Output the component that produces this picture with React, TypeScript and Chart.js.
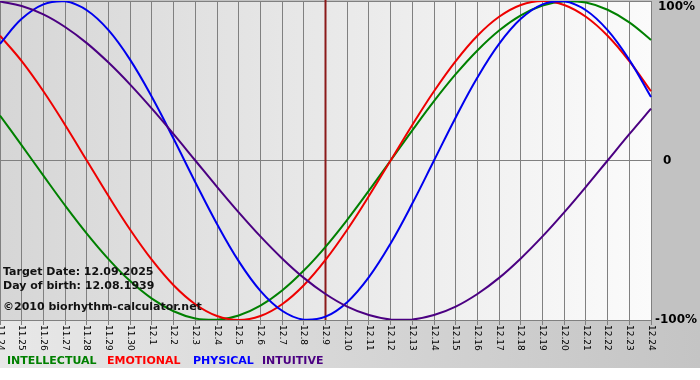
import React, { useEffect, useRef } from "react";
import { Chart, registerables } from "chart.js";

Chart.register(...registerables);

const dateLabels = [
  "11.24", "11.25", "11.26", "11.27", "11.28", "11.29", "11.30",
  "12.1", "12.2", "12.3", "12.4", "12.5", "12.6", "12.7", "12.8", "12.9", "12.10",
  "12.11", "12.12", "12.13", "12.14", "12.15", "12.16", "12.17", "12.18", "12.19",
  "12.20", "12.21", "12.22", "12.23", "12.24",
];

const intellectual = [0.282, 0.095, -0.095, -0.282, -0.458, -0.618, -0.756, -0.866, -0.945, -0.990, -0.999, -0.972, -0.910, -0.815, -0.690, -0.541, -0.372, -0.189, 0.000, 0.189, 0.372, 0.541, 0.690, 0.815, 0.910, 0.972, 0.999, 0.990, 0.945, 0.866, 0.756];
const emotional = [0.782, 0.623, 0.434, 0.223, 0.000, -0.223, -0.434, -0.623, -0.782, -0.901, -0.975, -1.000, -0.975, -0.901, -0.782, -0.623, -0.434, -0.223, 0.000, 0.223, 0.434, 0.623, 0.782, 0.901, 0.975, 1.000, 0.975, 0.901, 0.782, 0.623, 0.434];
const physical = [0.731, 0.888, 0.979, 0.998, 0.942, 0.817, 0.631, 0.398, 0.136, -0.136, -0.398, -0.631, -0.817, -0.942, -0.998, -0.979, -0.888, -0.731, -0.520, -0.270, 0.000, 0.270, 0.520, 0.731, 0.888, 0.979, 0.998, 0.942, 0.817, 0.631, 0.398];
const intuitive = [0.997, 0.969, 0.916, 0.837, 0.736, 0.614, 0.476, 0.325, 0.165, 0.000, -0.165, -0.325, -0.476, -0.614, -0.736, -0.837, -0.916, -0.969, -0.997, -0.997, -0.969, -0.916, -0.837, -0.736, -0.614, -0.476, -0.325, -0.165, 0.000, 0.165, 0.325];

const targetIndex = 15;
const infoLines = ["Target Date: 12.09.2025", "Day of birth: 12.08.1939"];
const copyright = "\u00A92010 biorhythm-calculator.net";
const yTickLabels = [
  { v: 1, t: "100%" },
  { v: 0, t: "0" },
  { v: -1, t: "-100%" },
];
const legendItems = [
  { t: "INTELLECTUAL", c: "#008000", x: 7 },
  { t: "EMOTIONAL", c: "#ff0000", x: 107 },
  { t: "PHYSICAL", c: "#0000ff", x: 193 },
  { t: "INTUITIVE", c: "#4b0082", x: 262 },
];

const bgPlugin = {
  id: "bgPlugin",
  beforeDraw(chart: any) {
    const { ctx, chartArea: a, width, height } = chart;
    ctx.save();
    ctx.fillStyle = "#c2c2c2";
    ctx.fillRect(0, 0, width, height);
    const gb = ctx.createLinearGradient(0, 0, width, 0);
    gb.addColorStop(0, "#e8e8e8");
    gb.addColorStop(1, "#c4c4c4");
    ctx.fillStyle = gb;
    ctx.fillRect(0, a.bottom, width, 368 - a.bottom);
    ctx.fillStyle = "#ffffff";
    ctx.fillRect(0, 368, width, height - 368);
    const gp = ctx.createLinearGradient(a.left, 0, a.right, 0);
    gp.addColorStop(0, "#d6d6d6");
    gp.addColorStop(1, "#fbfbfb");
    ctx.fillStyle = gp;
    ctx.fillRect(a.left, a.top, a.right - a.left, a.bottom - a.top);
    ctx.restore();
  },
  beforeDatasetsDraw(chart: any) {
    const { ctx, chartArea: a, scales } = chart;
    const x = scales.x.getPixelForValue(targetIndex);
    ctx.save();
    ctx.strokeStyle = "#8b1a1a";
    ctx.lineWidth = 2;
    ctx.beginPath();
    ctx.moveTo(x, 0);
    ctx.lineTo(x, a.bottom);
    ctx.stroke();
    ctx.restore();
  },
  afterDatasetsDraw(chart: any) {
    const { ctx, chartArea: a, scales } = chart;
    ctx.save();
    ctx.fillStyle = "#111111";
    ctx.font = "bold 11px 'DejaVu Sans'";
    ctx.textAlign = "left";
    ctx.textBaseline = "middle";
    ctx.fillText(infoLines[0], 3, 272);
    ctx.fillText(infoLines[1], 3, 286);
    ctx.fillText(copyright, 3, 307);

    // x tick labels
    ctx.font = "9px 'DejaVu Sans'";
    ctx.fillStyle = "#000000";
    dateLabels.forEach((lab, i) => {
      const px = scales.x.getPixelForValue(i);
      ctx.save();
      ctx.translate(px, a.bottom + 5);
      ctx.rotate(Math.PI / 2);
      ctx.textAlign = "left";
      ctx.textBaseline = "middle";
      ctx.fillText(lab, 0, 0);
      ctx.restore();
    });

    // y labels
    ctx.font = "bold 12px 'DejaVu Sans'";
    ctx.textBaseline = "middle";
    yTickLabels.forEach((y) => {
      let py = scales.y.getPixelForValue(y.v);
      if (y.v === 1) py += 6;
      const tx = y.v === 0 ? a.right + 12 : y.v === 1 ? a.right + 7 : a.right + 4;
      ctx.fillText(y.t, tx, py);
    });

    // legend
    ctx.font = "bold 11px 'DejaVu Sans'";
    legendItems.forEach((it) => {
      ctx.fillStyle = it.c;
      ctx.fillText(it.t, it.x, 361);
    });
    ctx.restore();
  },
};

export default function App() {
  const ref = useRef<HTMLCanvasElement>(null);
  useEffect(() => {
    if (!ref.current) return;
    const mk = (label: string, data: number[], color: string) => ({
      label,
      data,
      borderColor: color,
      backgroundColor: color,
      borderWidth: 2,
      pointRadius: 0,
      tension: 0.4,
      fill: false,
    });
    const chart = new Chart(ref.current, {
      type: "line",
      data: {
        labels: dateLabels,
        datasets: [
          mk("INTUITIVE", intuitive, "#4b0082"),
          mk("PHYSICAL", physical, "#0000ee"),
          mk("EMOTIONAL", emotional, "#ee0000"),
          mk("INTELLECTUAL", intellectual, "#008000"),
        ],
      },
      options: {
        animation: false,
        responsive: false,
        maintainAspectRatio: false,
        layout: { padding: { left: 0, right: 49, top: 1, bottom: 55 } },
        plugins: { legend: { display: false }, tooltip: { enabled: false } },
        scales: {
          x: {
            type: "category",
            offset: false,
            ticks: { display: false },
            grid: { color: "#808080", lineWidth: 1, drawTicks: true, tickLength: 5, offset: false },
            border: { color: "#808080" },
          },
          y: {
            position: "right",
            min: -1,
            max: 1,
            ticks: { display: false, stepSize: 1 },
            grid: { color: "#808080", lineWidth: 1, drawTicks: false },
            border: { color: "#808080" },
          },
        },
      },
      plugins: [bgPlugin],
    });
    return () => chart.destroy();
  }, []);
  return (
    <div style={{ position: "absolute", left: 0, top: 0, width: 700, height: 380 }}>
      <canvas ref={ref} width={700} height={380} />
    </div>
  );
}
